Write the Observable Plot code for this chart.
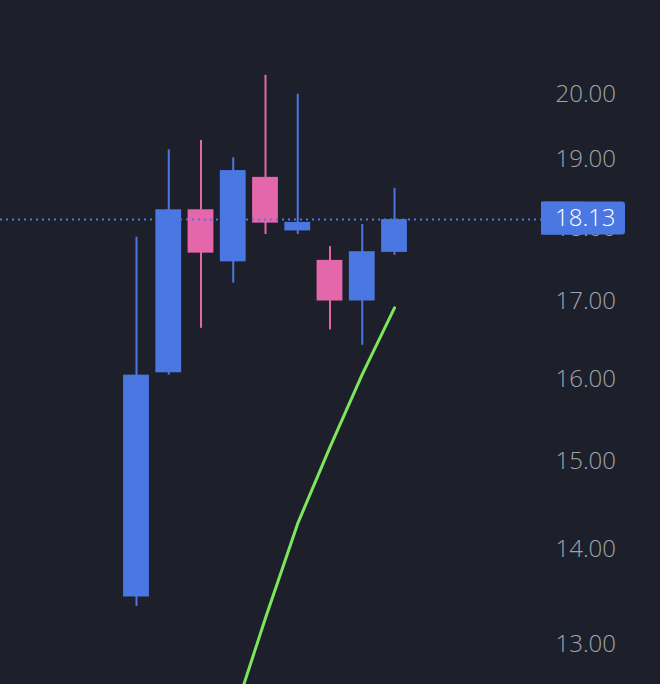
<!DOCTYPE html>
<html>
<head>
<meta charset="utf-8">
<script src="https://cdn.jsdelivr.net/npm/d3@7"></script>
<script src="https://cdn.jsdelivr.net/npm/@observablehq/plot@0.6"></script>
<style>
  html, body { margin: 0; padding: 0; background: #1d202a; }
  #chart { width: 660px; height: 684px; overflow: hidden; }
</style>
</head>
<body>
<div id="chart"></div>
<script>
// Candle data (bar index, OHLC)
const bars   = [0, 1, 2, 3, 4, 5, 6, 7, 8];
const opens  = [13.49, 16.08, 18.27, 17.54, 18.74, 17.97, 17.56, 17.01, 17.67];
const highs  = [17.88, 19.15, 19.29, 19.03, 20.30, 20.00, 17.75, 18.06, 18.58];
const lows   = [13.39, 16.05, 16.65, 17.25, 17.92, 17.92, 16.63, 16.43, 17.63];
const closes = [16.05, 18.27, 17.66, 18.84, 18.08, 18.09, 17.01, 17.68, 18.13];

// Moving-average line (green)
const maBars = [3, 4, 5, 6, 7, 8];
const maVals = [12.28, 13.27, 14.29, 15.17, 16.06, 16.92];

// Axis ticks
const yTicks = [13, 14, 15, 16, 17, 18, 19, 20];

const UP = "#4a77e2", DOWN = "#e466ab", MA = "#7ce65c", BG = "#1d202a";
const FONT = "'Open Sans', sans-serif";

const candles = bars.map((b, i) => ({ b, o: opens[i], h: highs[i], l: lows[i], c: closes[i] }));
const ma = maBars.map((b, i) => ({ b, v: maVals[i] }));
const last = candles[candles.length - 1];
const up = d => d.c >= d.o;

const W = 660, H = 684, MR = 119;

const plot = Plot.plot({
  width: W,
  height: H,
  marginLeft: 0,
  marginRight: MR,
  marginTop: 0,
  marginBottom: 0,
  style: { background: BG, fontFamily: FONT, fontSize: "24px", overflow: "hidden" },
  x: { type: "linear", domain: [-4.217, 12.558], axis: null },
  y: { type: "log", domain: [12.596, 21.525], axis: null },
  marks: [
    Plot.axisY({
      anchor: "right", ticks: yTicks, tickFormat: d => d.toFixed(2),
      tickSize: 0, tickPadding: 14, fill: "#a0a4ac", fontSize: 24, fontWeight: 300, textAnchor: "start"
    }),
    Plot.ruleX(candles.filter(up), { x: "b", y1: "l", y2: "h", stroke: UP, strokeWidth: 2 }),
    Plot.ruleX(candles.filter(d => !up(d)), { x: "b", y1: "l", y2: "h", stroke: DOWN, strokeWidth: 2 }),
    Plot.rect(candles.filter(up), { x1: d => d.b - 0.4, x2: d => d.b + 0.4, y1: "o", y2: "c", fill: UP }),
    Plot.rect(candles.filter(d => !up(d)), { x1: d => d.b - 0.4, x2: d => d.b + 0.4, y1: "o", y2: "c", fill: DOWN }),
    Plot.line(ma, { x: "b", y: "v", stroke: MA, strokeWidth: 3, clip: true }),
    Plot.ruleY([last.c], { stroke: UP, strokeWidth: 2, strokeDasharray: "2 4" })
  ]
});

// Last-price label box on the right axis, positioned through the y scale
const yS = plot.scale("y");
const yc = yS.apply(last.c);
const svg = d3.select(plot.tagName === "svg" ? plot : plot.querySelector("svg"));
const bx = W - MR, bw = 84, bh = 33;
const g = svg.append("g");
g.append("rect").attr("x", bx).attr("y", yc - bh / 2 - 1).attr("width", bw).attr("height", bh).attr("rx", 3).attr("fill", UP);
g.append("rect").attr("x", bx).attr("y", yc - bh / 2 - 1).attr("width", bw / 2).attr("height", bh).attr("fill", UP);
g.append("text").attr("x", bx + 14).attr("y", yc - 1).attr("dy", "0.34em")
  .attr("text-anchor", "start")
  .attr("fill", "#ffffff").attr("font-size", 24).attr("font-weight", 300)
  .attr("font-family", FONT).text(last.c.toFixed(2));

document.getElementById("chart").appendChild(plot);
</script>
</body>
</html>
